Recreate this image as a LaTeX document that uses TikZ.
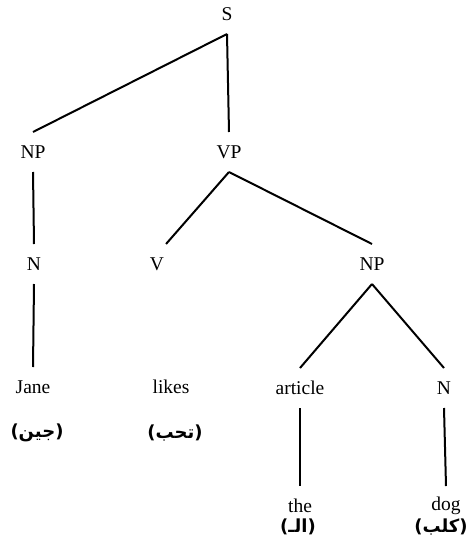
\documentclass[tikz,border=0pt]{standalone}
\usepackage{fontspec}
\setmainfont{Liberation Serif}
\newfontfamily\arabicfont[Script=Arabic]{DejaVu Sans}
\TeXXeTstate=1

\begin{document}
\begin{tikzpicture}[x=1pt, y=1pt, line width=2pt,
    cat/.style = {minimum height=38pt, inner sep=1pt,
        font=\fontsize{19.5}{22}\selectfont},
    gloss/.style = {inner sep=0pt,
        font=\fontsize{18}{20}\selectfont\arabicfont\bfseries}]

\useasboundingbox (0,0) rectangle (469,-549);

% Phrases
\node[cat] (S) at (227,-14) {S};
\node[cat] (NP) at (33,-152) {NP};
\node[cat] (VP) at (229,-152) {VP};

% Categories
\node[cat] (N) at (34,-264) {N};
\node[cat] (V) at (157,-264) {V};
\node[cat] (NPobj) at (372,-264) {NP};
\node[cat] (art) at (300,-388) {article};
\node[cat] (Nobj) at (444,-388) {N};

% Words
\node[cat] (jane) at (33,-387) {Jane};
\node[cat] (likes) at (171,-387) {likes};
\node[cat] (the) at (300,-506) {the};
\node[cat] (dog) at (446,-506) {dog};

% Arabic glosses
\node[gloss] (jane-ar) at (37,-433) {\beginR(جين)\endR};
\node[gloss] (likes-ar) at (175,-433) {\beginR(تحب)\endR};
\node[gloss] (the-ar) at (298,-527) {\beginR(الـ)\endR};
\node[gloss] (dog-ar) at (441,-527) {\beginR(كلب)\endR};

% Branches
\draw (S.south) -- (NP.north);
\draw (S.south) -- (VP.north);
\draw (NP.south) -- (N.north);
\draw (N.south) -- (jane.north);
\draw (VP.south) -- (V.north east);
\draw (VP.south) -- (NPobj.north);
\draw (NPobj.south) -- (art.north);
\draw (NPobj.south) -- (Nobj.north);
\draw (art.south) -- (the.north);
\draw (Nobj.south) -- (dog.north);
\end{tikzpicture}
\end{document}
